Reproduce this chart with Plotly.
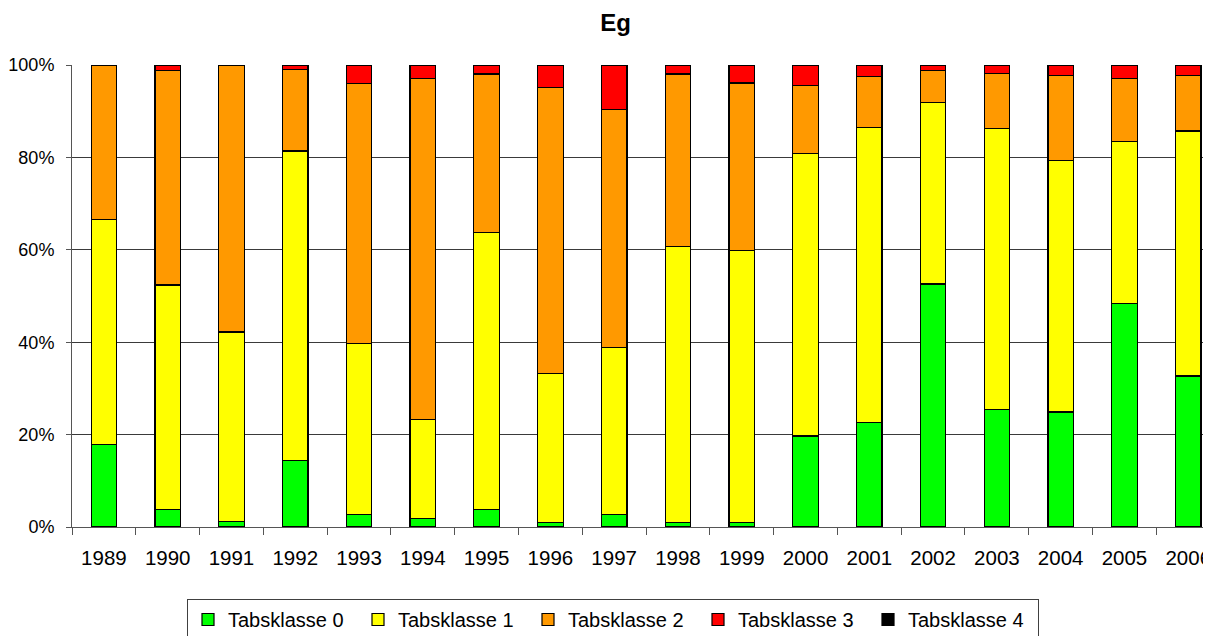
import plotly.graph_objects as go

years = ["1989", "1990", "1991", "1992", "1993", "1994", "1995", "1996", "1997",
         "1998", "1999", "2000", "2001", "2002", "2003", "2004", "2005", "2006"]

tabsklasse_0 = [17.9, 3.8, 1.2, 14.4, 2.7, 1.8, 3.8, 0.9, 2.7,
                0.9, 0.9, 19.7, 22.7, 52.6, 25.4, 24.9, 48.4, 32.7]
tabsklasse_1 = [48.7, 48.6, 41.0, 67.0, 37.0, 21.4, 59.9, 32.3, 36.2,
                59.9, 59.0, 61.1, 63.7, 39.2, 60.9, 54.5, 35.1, 53.0]
tabsklasse_2 = [33.4, 46.4, 57.8, 17.6, 56.3, 73.8, 34.35, 62.0, 51.5,
                37.25, 36.2, 14.8, 11.1, 7.0, 11.9, 18.3, 13.6, 12.0]
tabsklasse_3 = [0.0, 1.2, 0.0, 1.0, 4.0, 3.0, 1.95, 4.8, 9.6,
                1.95, 3.9, 4.4, 2.5, 1.2, 1.8, 2.3, 2.9, 2.3]
tabsklasse_4 = [0.0] * 18

series_names = ["Tabsklasse 0", "Tabsklasse 1", "Tabsklasse 2", "Tabsklasse 3", "Tabsklasse 4"]
series_values = [tabsklasse_0, tabsklasse_1, tabsklasse_2, tabsklasse_3, tabsklasse_4]
series_colors = ["#00FF00", "#FFFF00", "#FF9900", "#FF0000", "#000000"]

y_tick_values = [0, 20, 40, 60, 80, 100]
y_tick_labels = ["0%", "20%", "40%", "60%", "80%", "100%"]

fig = go.Figure()
for name, vals, col in zip(series_names, series_values, series_colors):
    fig.add_trace(go.Bar(
        x=years, y=vals, name=name,
        marker=dict(color=col, line=dict(color="#000000", width=1.2)),
        width=0.4,
    ))

# page body adds an 8px offset; positions below are in figure pixels
OFF = 8
W, H = 1211 - OFF, 636 - OFF
left = 70.3 - OFF
top = 65 - OFF
bottom_px = 526.7 - OFF
cat_w = 63.88
x_max = -0.5 + (W - left) / cat_w

fig.update_layout(
    width=W, height=H,
    barmode="stack",
    plot_bgcolor="white", paper_bgcolor="white",
    margin=dict(l=left, r=0, t=top, b=H - bottom_px, pad=0),
    font=dict(family="Liberation Sans, Arial, sans-serif", color="#000000"),
    title=dict(text="<b>Eg</b>", font=dict(size=24, family="Liberation Sans, Arial, sans-serif"),
               x=(615.7 - OFF) / W, xanchor="center", xref="container",
               y=1 - (23 - OFF) / H, yanchor="middle", yref="container"),
    showlegend=True,
    legend=dict(orientation="h", traceorder="normal",
                xref="container", yref="container",
                x=(187 - OFF) / W, xanchor="left", y=1 - (599 - OFF) / H, yanchor="top",
                font=dict(size=20, color="#000000"),
                bgcolor="white", bordercolor="#404040", borderwidth=1,
                entrywidth=125, itemclick=False),
    xaxis=dict(type="category", range=[-0.5, x_max],
               showline=True, linecolor="#555555", linewidth=1,
               ticks="outside", ticklen=7, tickcolor="#555555", tickson="boundaries",
               tickfont=dict(size=20.5), ticklabelstandoff=12,
               showgrid=False, zeroline=False, fixedrange=True),
    yaxis=dict(range=[0, 100], tickmode="array", tickvals=y_tick_values, ticktext=y_tick_labels,
               showline=True, linecolor="#555555", linewidth=1,
               ticks="outside", ticklen=5, tickcolor="#555555",
               tickfont=dict(size=18), ticklabelstandoff=8,
               showgrid=True, gridcolor="#3a3a3a", gridwidth=1,
               zeroline=False, fixedrange=True),
)

fig.write_html("out.html")
